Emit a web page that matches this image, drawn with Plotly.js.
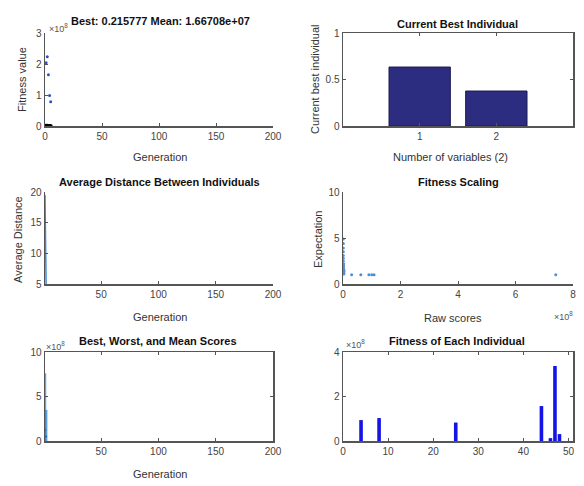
<!DOCTYPE html>
<html>
<head>
<meta charset="utf-8">
<script src="https://cdn.plot.ly/plotly-3.0.1.min.js"></script>
<style>html,body{margin:0;padding:0;background:#fff;}#chart{width:584px;height:486px;}</style>
</head>
<body>
<div id="chart"></div>
<script>
// ---- Data (values in units shown on the axes) ----
const genBest = [1, 2, 3, 4, 5];
const bestFitness = [0.01, 0.005, 0.003, 0.002, 0.001];      // x10^8
const meanFitness = [2.04, 2.23, 1.65, 0.98, 0.78];           // x10^8

const bestIndivVars = ['1', '2'];
const bestIndivVals = [0.634, 0.376];

const genDist = [1, 2, 3, 4, 5];
const avgDistance = [19.5, 4.0, 2.5, 1.8, 1.2];

const rawScores = [0.01, 0.01, 0.01, 0.01, 0.01, 0.01, 0.01, 0.02, 0.02, 0.02, 0.02, 0.03, 0.03, 0.03, 0.03,
                   0.3, 0.62, 0.9, 1.0, 1.08, 7.4]; // x10^8
const expectation = [4.9, 4.4, 3.9, 3.5, 3.1, 2.8, 2.5, 2.2, 2.0, 1.8, 1.6, 1.5, 1.35, 1.2, 1.1,
                     1, 1, 1, 1, 1, 1];

const genRange = [1, 2];
const bestScore = [0, 0];          // x10^8
const worstScore = [7.6, 3.5];     // x10^8
const meanScore = [1.2, 0.5];      // x10^8

const individuals = [1,2,3,4,5,6,7,8,9,10,11,12,13,14,15,16,17,18,19,20,21,22,23,24,25,
                     26,27,28,29,30,31,32,33,34,35,36,37,38,39,40,41,42,43,44,45,46,47,48,49,50];
const fitnessEach = [0,0,0,0.94,0,0,0,1.03,0,0,0,0,0,0,0,0,0,0,0,0,0,0,0,0,0.83,
                     0,0,0,0,0,0,0,0,0,0,0,0,0,0,0,0,0,0,1.57,0,0.13,3.37,0.31,0,0]; // x10^8

// ---- Layout helpers (pixel -> paper) ----
const W = 584, H = 486;
const px = x => x / W;
const py = y => 1 - y / H;

const FONT = 'Liberation Sans, Arial, sans-serif';
const tickFont = {family: FONT, size: 10, color: '#444'};
const lineCol = '#555';

function ax(domain, range, extra) {
  return Object.assign({
    domain: domain, range: range, showgrid: false, zeroline: false,
    showline: true, linecolor: lineCol, linewidth: 1.5,
    ticks: 'inside', ticklen: 3, tickcolor: lineCol, tickfont: tickFont,
    fixedrange: true
  }, extra || {});
}

const colL = [px(45), px(273)];
const colR = [px(343), px(573)];
const row1 = [py(126), py(33)];
const row2 = [py(284), py(192)];
const row3 = [py(441), py(352)];

const traces = [
  // Panel 1
  {x: genBest, y: bestFitness, type: 'scatter', mode: 'markers', xaxis: 'x', yaxis: 'y',
   marker: {color: '#000', size: 4}},
  {x: genBest, y: meanFitness, type: 'scatter', mode: 'markers', xaxis: 'x', yaxis: 'y',
   marker: {color: '#3050c0', size: 3}},
  // Panel 2
  {x: [1, 2], y: bestIndivVals, type: 'bar', xaxis: 'x2', yaxis: 'y2', width: 0.8,
   marker: {color: '#2c2c80', line: {color: '#1a1a50', width: 1}}},
  // Panel 3
  {x: genDist, y: avgDistance, type: 'scatter', mode: 'lines', xaxis: 'x3', yaxis: 'y3',
   line: {color: '#3a8ad8', width: 1.5}},
  // Panel 4
  {x: rawScores, y: expectation, type: 'scatter', mode: 'markers', xaxis: 'x4', yaxis: 'y4',
   marker: {color: '#4a90d8', size: 3}},
  // Panel 5
  {x: genRange, y: meanScore, type: 'scatter', mode: 'markers', xaxis: 'x5', yaxis: 'y5',
   marker: {color: '#1a60b0', size: 2},
   error_y: {type: 'data', symmetric: false,
     array: worstScore.map((w, i) => w - meanScore[i]),
     arrayminus: meanScore.map((m, i) => m - bestScore[i]),
     color: 'rgba(30,130,220,0.7)', thickness: 2.5, width: 0}},
  // Panel 6
  {x: individuals, y: fitnessEach, type: 'bar', xaxis: 'x6', yaxis: 'y6', width: 0.8,
   marker: {color: '#1414e6'}}
];

const annBase = {xref: 'paper', yref: 'paper', showarrow: false};
const titleFont = {family: FONT, size: 11, color: '#111', weight: 'bold'};
const labFont = {family: FONT, size: 11, color: '#333'};
const expFont = {family: FONT, size: 9, color: '#555'};
function ann(text, x, y, font, extra) {
  return Object.assign({}, annBase, {text: text, x: px(x), y: py(y), font: font,
    xanchor: 'center', yanchor: 'middle'}, extra || {});
}

const annotations = [
  ann('Best: 0.215777 Mean: 1.66708e+07', 160, 21, titleFont),
  ann('Current Best Individual', 457, 24, titleFont),
  ann('Average Distance Between Individuals', 159, 182, titleFont),
  ann('Fitness Scaling', 458, 182, titleFont),
  ann('Best, Worst, and Mean Scores', 158, 341, titleFont),
  ann('Fitness of Each Individual', 457, 341, titleFont),

  ann('Generation', 160, 157, labFont),
  ann('Number of variables (2)', 450, 157, labFont),
  ann('Generation', 160, 317, labFont),
  ann('Raw scores', 453, 318, labFont),
  ann('Generation', 160, 474, labFont),

  ann('Fitness value', 22, 80, labFont, {textangle: -90}),
  ann('Current best individual', 315, 80, labFont, {textangle: -90}),
  ann('Average Distance', 18, 240, labFont, {textangle: -90}),
  ann('Expectation', 318, 240, labFont, {textangle: -90}),

  ann('\u00d710<sup>8</sup>', 58, 28, expFont),
  ann('\u00d710<sup>8</sup>', 563, 316, expFont),
  ann('\u00d710<sup>8</sup>', 55, 346, expFont),
  ann('\u00d710<sup>8</sup>', 355, 344, expFont)
];

const layout = {
  width: W, height: H,
  margin: {l: 0, r: 0, t: 0, b: 0},
  paper_bgcolor: '#fff', plot_bgcolor: '#fff',
  showlegend: false,
  font: {family: FONT},
  xaxis: ax(colL, [0, 200], {anchor: 'y', tickvals: [0, 50, 100, 150, 200]}),
  yaxis: ax(row1, [0, 3], {anchor: 'x', tickvals: [0, 1, 2, 3]}),
  xaxis2: ax(colR, [0, 3], {anchor: 'y2', tickvals: [1, 2], ticktext: bestIndivVars, mirror: 'ticks'}),
  yaxis2: ax(row1, [0, 1], {anchor: 'x2', tickvals: [0, 0.5, 1], mirror: 'ticks'}),
  xaxis3: ax(colL, [1, 200], {anchor: 'y3', tickvals: [50, 100, 150, 200]}),
  yaxis3: ax(row2, [5, 20], {anchor: 'x3', tickvals: [5, 10, 15, 20]}),
  xaxis4: ax(colR, [0, 8], {anchor: 'y4', tickvals: [0, 2, 4, 6, 8]}),
  yaxis4: ax(row2, [0, 10], {anchor: 'x4', tickvals: [0, 5, 10]}),
  xaxis5: ax(colL, [1, 200], {anchor: 'y5', tickvals: [50, 100, 150, 200], mirror: 'ticks'}),
  yaxis5: ax(row3, [0, 10], {anchor: 'x5', tickvals: [0, 5, 10], mirror: 'ticks'}),
  xaxis6: ax(colR, [0, 51], {anchor: 'y6', tickvals: [0, 10, 20, 30, 40, 50], mirror: 'ticks'}),
  yaxis6: ax(row3, [0, 4], {anchor: 'x6', tickvals: [0, 2, 4], mirror: 'ticks'}),
  annotations: annotations
};

Plotly.newPlot('chart', traces, layout, {displayModeBar: false, staticPlot: true});
</script>
</body>
</html>
